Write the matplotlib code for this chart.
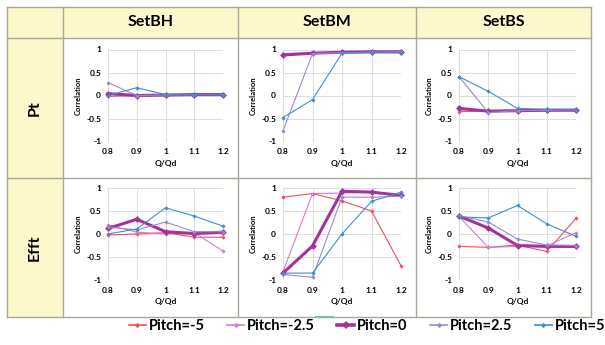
import matplotlib
matplotlib.use("Agg")
import matplotlib.pyplot as plt
from matplotlib.patches import Rectangle
from matplotlib.lines import Line2D

plt.rcParams['font.family'] = ['Lato', 'DejaVu Sans']

# ---- data ----
x_vals = [0.8, 0.9, 1.0, 1.1, 1.2]
x_ticklabels = ["0.8", "0.9", "1", "1.1", "1.2"]
y_ticks = [-1, -0.5, 0, 0.5, 1]
y_ticklabels = ["-1", "-0.5", "0", "0.5", "1"]
col_names = ["SetBH", "SetBM", "SetBS"]
row_names = ["Pt", "Efft"]
series_names = ["Pitch=-5", "Pitch=-2.5", "Pitch=0", "Pitch=2.5", "Pitch=5"]

pt_bh_m5 = [-0.02, 0.00, 0.01, 0.02, 0.02]
pt_bh_m25 = [0.03, 0.00, 0.01, 0.02, 0.02]
pt_bh_0 = [0.04, 0.00, 0.01, 0.02, 0.02]
pt_bh_25 = [0.28, 0.00, 0.01, 0.02, 0.02]
pt_bh_5 = [0.00, 0.17, 0.02, 0.02, 0.02]

pt_bm_m5 = [0.90, 0.92, 0.94, 0.95, 0.95]
pt_bm_m25 = [0.91, 0.93, 0.94, 0.95, 0.95]
pt_bm_0 = [0.88, 0.92, 0.94, 0.95, 0.95]
pt_bm_25 = [-0.77, 0.91, 0.93, 0.94, 0.95]
pt_bm_5 = [-0.48, -0.09, 0.92, 0.93, 0.93]

pt_bs_m5 = [-0.35, -0.34, -0.33, -0.33, -0.32]
pt_bs_m25 = [-0.31, -0.34, -0.33, -0.32, -0.32]
pt_bs_0 = [-0.28, -0.34, -0.33, -0.32, -0.32]
pt_bs_25 = [0.41, -0.37, -0.33, -0.32, -0.31]
pt_bs_5 = [0.41, 0.09, -0.28, -0.30, -0.30]

ef_bh_m5 = [-0.02, 0.00, 0.03, -0.07, -0.07]
ef_bh_m25 = [0.20, 0.04, 0.00, 0.03, -0.37]
ef_bh_0 = [0.12, 0.32, 0.05, 0.01, 0.04]
ef_bh_25 = [0.15, 0.09, 0.26, 0.05, 0.05]
ef_bh_5 = [0.00, 0.11, 0.57, 0.39, 0.17]

ef_bm_m5 = [0.80, 0.88, 0.72, 0.50, -0.69]
ef_bm_m25 = [-0.82, 0.88, 0.89, 0.91, 0.84]
ef_bm_0 = [-0.85, -0.26, 0.93, 0.91, 0.84]
ef_bm_25 = [-0.88, -0.94, 0.80, 0.80, 0.82]
ef_bm_5 = [-0.85, -0.85, 0.00, 0.71, 0.91]

ef_bs_m5 = [-0.27, -0.29, -0.24, -0.38, 0.34]
ef_bs_m25 = [0.38, -0.29, -0.27, -0.26, 0.03]
ef_bs_0 = [0.39, 0.13, -0.25, -0.27, -0.27]
ef_bs_25 = [0.40, 0.26, -0.11, -0.24, -0.25]
ef_bs_5 = [0.37, 0.35, 0.62, 0.22, -0.05]

panels = [
    [[pt_bh_m5, pt_bh_m25, pt_bh_0, pt_bh_25, pt_bh_5],
     [pt_bm_m5, pt_bm_m25, pt_bm_0, pt_bm_25, pt_bm_5],
     [pt_bs_m5, pt_bs_m25, pt_bs_0, pt_bs_25, pt_bs_5]],
    [[ef_bh_m5, ef_bh_m25, ef_bh_0, ef_bh_25, ef_bh_5],
     [ef_bm_m5, ef_bm_m25, ef_bm_0, ef_bm_25, ef_bm_5],
     [ef_bs_m5, ef_bs_m25, ef_bs_0, ef_bs_25, ef_bs_5]],
]

colors = ["#F0505A", "#D77CCF", "#A2339C", "#9C86D4", "#3D8FD3"]
lws = [0.8, 0.8, 2.2, 0.8, 0.8]
msizes = [2.2, 2.2, 3.5, 2.2, 2.2]

W, H = 605, 345
fig = plt.figure(figsize=(W / 100, H / 100), dpi=100)
fig.patch.set_facecolor("white")

def fx(x):
    return x / W

def fy(y):
    return 1 - y / H

yellow = "#FCF8CC"
border = "#A8A898"

# table geometry (pixels)
tx0, tx1 = 7, 591
col_x = [7, 63, 238, 416, 591]
row_y = [7, 38, 178, 317]

# backgrounds
fig.patches.append(Rectangle((fx(tx0), fy(row_y[1])), fx(tx1 - tx0), (row_y[1] - row_y[0]) / H,
                             transform=fig.transFigure, facecolor=yellow, edgecolor="none", zorder=0))
fig.patches.append(Rectangle((fx(col_x[0]), fy(row_y[3])), fx(col_x[1] - col_x[0]), (row_y[3] - row_y[1]) / H,
                             transform=fig.transFigure, facecolor=yellow, edgecolor="none", zorder=0))
# borders
for xx in col_x:
    fig.add_artist(Line2D([fx(xx), fx(xx)], [fy(row_y[0]), fy(row_y[3])], color=border, lw=1.0, transform=fig.transFigure))
for yy in row_y:
    fig.add_artist(Line2D([fx(tx0), fx(tx1)], [fy(yy), fy(yy)], color=border, lw=1.0, transform=fig.transFigure))
# small green mark
fig.add_artist(Line2D([fx(316), fx(333)], [fy(317), fy(317)], color="#7FBF9F", lw=1.5, transform=fig.transFigure))

# headers
for j, name in enumerate(col_names):
    fig.text(fx((col_x[j + 1] + col_x[j + 2]) / 2), fy((row_y[0] + row_y[1]) / 2), name,
             ha="center", va="center", fontsize=11.5, fontweight="bold")
for i, name in enumerate(row_names):
    fig.text(fx((col_x[0] + col_x[1]) / 2), fy((row_y[i + 1] + row_y[i + 2]) / 2), name,
             ha="center", va="center", fontsize=11.5, fontweight="bold", rotation=90)

# axes positions in pixels: (left, right)
ax_x = [(108, 223), (283, 401), (459, 576)]
ax_y = [(49.5, 141.5), (188, 280)]

for i in range(2):
    for j in range(3):
        l, r = ax_x[j]
        t, b = ax_y[i]
        ax = fig.add_axes([fx(l), fy(b), (r - l) / W, (b - t) / H])
        ax.set_facecolor("white")
        for k, s in enumerate(panels[i][j]):
            ax.plot(x_vals, s, color=colors[k], lw=lws[k], marker="D", ms=msizes[k],
                    markeredgewidth=0, zorder=3, clip_on=False)
        ax.set_xlim(0.8, 1.2)
        ax.set_ylim(-1, 1)
        ax.set_xticks(x_vals)
        ax.set_xticklabels(x_ticklabels, fontsize=6, fontweight="bold")
        ax.set_yticks(y_ticks)
        ax.set_yticklabels(y_ticklabels, fontsize=6, fontweight="bold")
        ax.tick_params(length=0, pad=5)
        ax.grid(True, color="#DDDDDD", lw=0.7)
        for sp in ax.spines.values():
            sp.set_visible(False)
        ax.set_xlabel("Q/Qd", fontsize=6, fontweight="bold", labelpad=3)
        ax.set_ylabel("Correlation", fontsize=5.5, fontweight="bold", labelpad=3)

handles = [Line2D([0], [0], color=colors[k], lw=lws[k] + 0.4, marker="D", ms=msizes[k] + 0.5, markeredgewidth=0)
           for k in range(5)]
fig.legend(handles, series_names, loc="center", bbox_to_anchor=(fx(367), fy(326)), ncol=5,
           frameon=False, prop={"size": 10.5, "weight": "bold"}, handlelength=1.15, handletextpad=0.2,
           columnspacing=1.55, borderpad=0, borderaxespad=0)

fig.savefig("out.png", dpi=100)
